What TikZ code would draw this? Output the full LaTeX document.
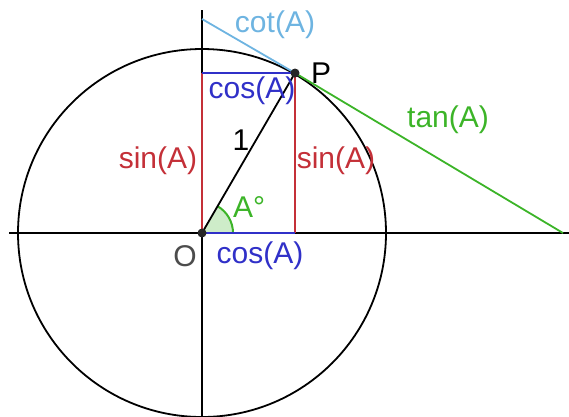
\documentclass[tikz,border=0pt]{standalone}
\usepackage{fontspec}
\setmainfont{Liberation Sans}
\usetikzlibrary{calc}
\definecolor{myred}{RGB}{196,48,56}
\definecolor{myblue}{RGB}{48,48,200}
\definecolor{mygreen}{RGB}{60,180,40}
\definecolor{mycyan}{RGB}{110,180,225}
\begin{document}
\begin{tikzpicture}[x=1pt,y=-1pt,
  lbl/.style={font=\fontsize{30}{30}\selectfont, inner sep=0pt},
  axis/.style={black, line width=2pt},
  thin/.style={line width=1.8pt},
  dot/.style={circle, fill=black!85, inner sep=0pt, minimum size=9pt}]
\useasboundingbox (0,0) rectangle (569,416);
\coordinate (O) at (202,233);
\coordinate (P) at (295,73);
\coordinate (XL) at (9,233);
\coordinate (XR) at (569,233);
\coordinate (YT) at (202,10);
\coordinate (YB) at (202,416);
\coordinate (Q) at (295,233);
\coordinate (R) at (202,73);
\coordinate (T) at (563,233);
\coordinate (C) at (202,19);
\coordinate (AE) at (233,233);
% axes
\draw[axis] (XL) -- (XR);
\draw[axis] (YT) -- (YB);
% circle
\draw[thin, black] (O) circle[radius=184];
% angle
\fill[mygreen!25] (O) -- (AE) arc[start angle=0, end angle=-60, radius=31] -- cycle;
\draw[mygreen, line width=2pt] (AE) arc[start angle=0, end angle=-60, radius=31];
% sin lines
\draw[myred, thin] (R) -- (O);
\draw[myred, thin] (P) -- (Q);
% cos lines
\draw[myblue, line width=2.2pt] (R) -- (P);
\draw[myblue, line width=2.2pt] (O) -- (Q);
% radius
\draw[thin, black] (O) -- (P);
% tan and cot
\draw[mygreen, thin] (P) -- (T);
\draw[mycyan, thin] (C) -- (P);
\node[dot] (Od) at (O) {};
\node[dot] (Pd) at (P) {};
% labels
\node[lbl, mycyan] (lcot) at (275,25) {cot(A)};
\node[lbl, myblue] (lcos1) at (252,91) {cos(A)};
\node[lbl, black] (lP) at (321,73) {P};
\node[lbl, black] (l1) at (241,140) {1};
\node[lbl, myred] (lsin1) at (158,161) {sin(A)};
\node[lbl, myred] (lsin2) at (336,161) {sin(A)};
\node[lbl, mygreen] (lA) at (249,207) {A°};
\node[lbl, black!70] (lO) at (185,256) {O};
\node[lbl, myblue] (lcos2) at (260,256) {cos(A)};
\node[lbl, mygreen] (ltan) at (448,120) {tan(A)};
\end{tikzpicture}
\end{document}
